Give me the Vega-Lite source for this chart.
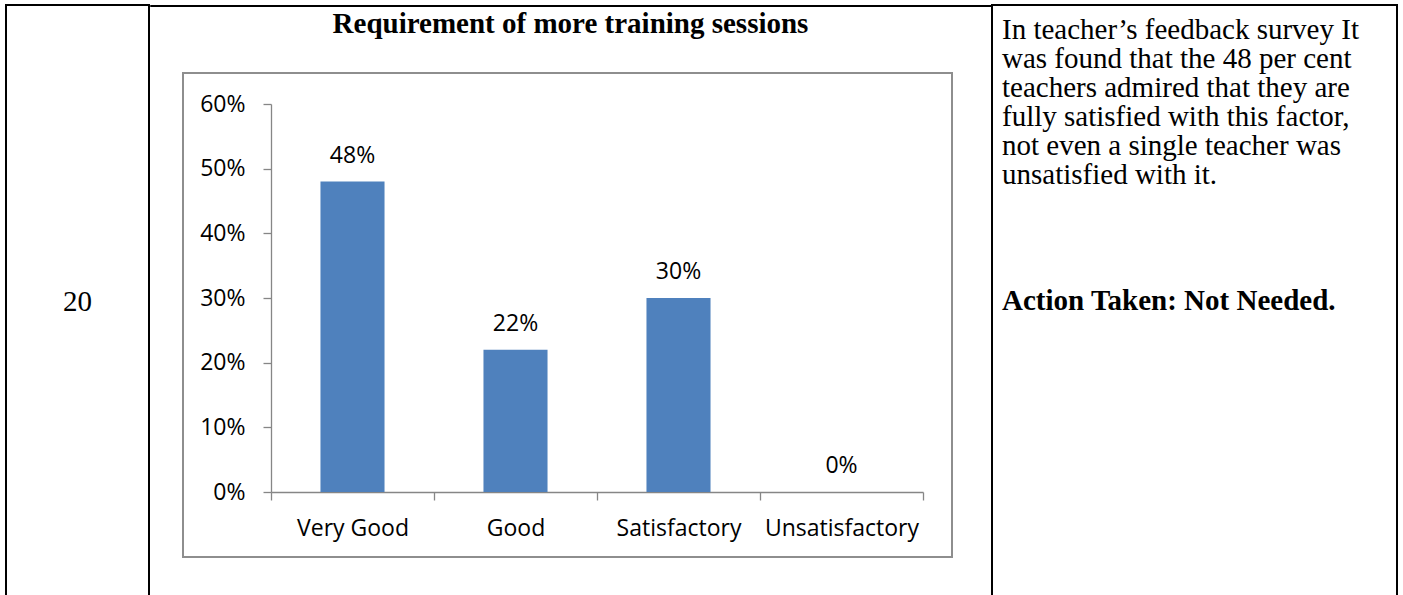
{
  "$schema": "https://vega.github.io/schema/vega-lite/v6.json",
  "background": "white",
  "padding": {"left": 5, "top": 4, "right": 5, "bottom": 0},
  "config": {"view": {"stroke": null}},
  "spacing": -2,
  "hconcat": [
    {
      "width": 143,
      "height": 593,
      "view": {"stroke": "black", "strokeWidth": 2},
      "data": {"values": [{"serial": "20"}]},
      "mark": {"type": "text", "font": "Liberation Serif", "fontSize": 29, "color": "black", "baseline": "middle", "align": "center"},
      "encoding": {"text": {"field": "serial", "type": "nominal"}}
    },
    {
      "spacing": 32,
      "vconcat": [
        {
          "width": 841,
          "height": 1,
          "view": {"stroke": "black", "strokeWidth": 1},
          "data": {"values": [{}]},
          "mark": {"type": "point", "size": 0, "opacity": 0, "strokeWidth": 0},
          "encoding": {},
          "title": {
            "text": "Requirement of more training sessions",
            "orient": "bottom",
            "anchor": "middle",
            "offset": 4,
            "font": "Liberation Serif",
            "fontSize": 29,
            "fontWeight": "bold",
            "color": "black"
          }
        },
        {
          "spacing": 20,
          "hconcat": [
            {
              "width": 12,
              "height": 1,
              "data": {"values": [{}]},
              "mark": {"type": "point", "size": 0, "opacity": 0, "strokeWidth": 0},
              "encoding": {}
            },
            {
              "width": 769,
              "height": 484,
              "view": {"stroke": "#8e8e8e", "strokeWidth": 2},
              "data": {
                "values": [
                  {"rating": "Very Good", "pct": 0.48},
                  {"rating": "Good", "pct": 0.22},
                  {"rating": "Satisfactory", "pct": 0.30},
                  {"rating": "Unsatisfactory", "pct": 0.0}
                ]
              },
              "encoding": {
                "x": {
                  "field": "rating",
                  "type": "nominal",
                  "sort": null,
                  "scale": {"range": [88, 740], "paddingInner": 0, "paddingOuter": 0},
                  "axis": {
                    "title": null,
                    "orient": "bottom",
                    "offset": -65,
                    "tickBand": "extent",
                    "tickSize": 8,
                    "tickColor": "#868686",
                    "domainColor": "#868686",
                    "domainWidth": 1.3,
                    "tickWidth": 1.3,
                    "labelAngle": 0,
                    "labelOverlap": false,
                    "labelFont": "Open Sans",
                    "labelFontSize": 23,
                    "labelColor": "black",
                    "labelPadding": 17,
                    "grid": false
                  }
                },
                "y": {
                  "field": "pct",
                  "type": "quantitative",
                  "scale": {"domain": [0, 0.6], "range": [419, 31], "nice": false},
                  "axis": {
                    "title": null,
                    "offset": -88,
                    "values": [0, 0.1, 0.2, 0.3, 0.4, 0.5, 0.6],
                    "format": ".0%",
                    "tickSize": 8,
                    "tickColor": "#868686",
                    "domainColor": "#868686",
                    "domainWidth": 1.3,
                    "tickWidth": 1.3,
                    "labelFont": "Open Sans",
                    "labelFontSize": 23,
                    "labelColor": "black",
                    "labelPadding": 18,
                    "grid": false
                  }
                }
              },
              "layer": [
                {"mark": {"type": "bar", "color": "#4f81bd", "width": {"band": 0.393}}},
                {
                  "mark": {"type": "text", "font": "Open Sans", "fontSize": 23, "color": "black", "baseline": "middle", "dy": -26},
                  "encoding": {"text": {"field": "pct", "type": "quantitative", "format": ".0%"}}
                }
              ]
            }
          ]
        }
      ]
    },
    {
      "width": 405,
      "height": 593,
      "view": {"stroke": "black", "strokeWidth": 2},
      "data": {
        "values": [
          {"line": 1, "kind": "body", "text": "In teacher’s feedback survey It\nwas found that the 48 per cent\nteachers admired that they are\nfully satisfied with this factor,\nnot even a single teacher was\nunsatisfied with it."},
          {"line": 10, "kind": "action", "text": "Action Taken: Not Needed."}
        ]
      },
      "encoding": {
        "x": {"datum": 0, "type": "quantitative", "scale": {"domain": [0, 1], "range": [10, 395]}, "axis": null},
        "y": {"field": "line", "type": "quantitative", "scale": {"domain": [1, 10], "range": [34, 305], "nice": false, "zero": false}, "axis": null},
        "text": {"field": "text", "type": "nominal"}
      },
      "layer": [
        {
          "transform": [{"filter": "datum.kind === 'body'"}],
          "mark": {"type": "text", "font": "Liberation Serif", "fontSize": 29, "lineHeight": 29, "lineBreak": "\n", "align": "left", "baseline": "alphabetic", "color": "black"}
        },
        {
          "transform": [{"filter": "datum.kind === 'action'"}],
          "mark": {"type": "text", "font": "Liberation Serif", "fontSize": 29, "fontWeight": "bold", "align": "left", "baseline": "alphabetic", "color": "black"}
        }
      ]
    }
  ]
}
